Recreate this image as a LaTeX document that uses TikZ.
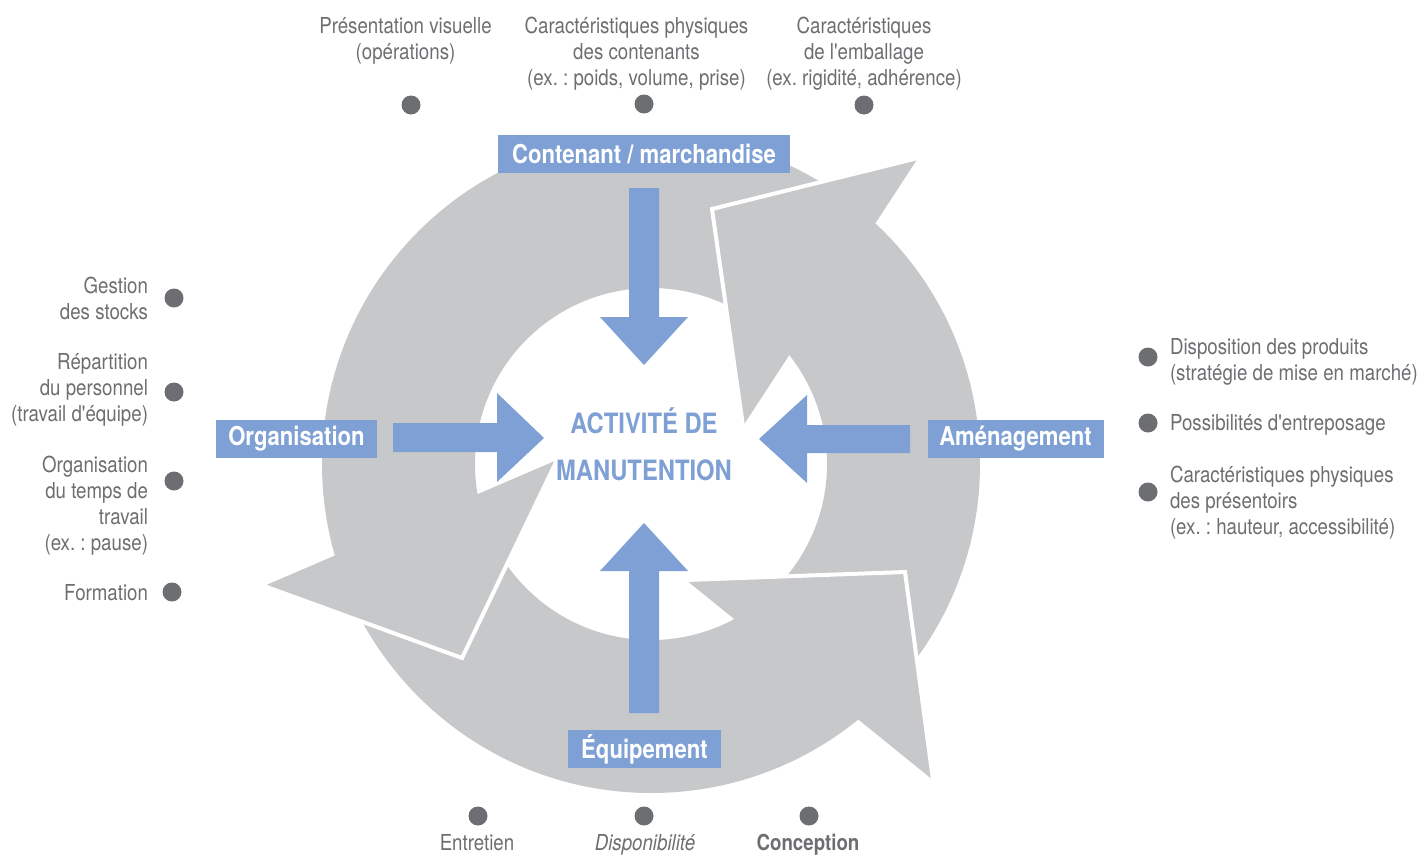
\documentclass[tikz,border=0pt]{standalone}
\usepackage{fontspec}
\setmainfont{TeX Gyre Heros}[FakeStretch=0.85, Ligatures=TeXOff]
\definecolor{ringgray}{HTML}{C7C8CA}
\definecolor{labelgray}{HTML}{6D6E71}
\definecolor{boxblue}{HTML}{7FA0D4}
\frenchspacing
\begin{document}
\begin{tikzpicture}[x=1pt,y=-1pt,
  lbl/.style={text=labelgray, font=\fontsize{22}{26}\selectfont, inner sep=0pt, outer sep=0pt},
  dot/.style={circle, fill=labelgray, minimum size=19pt, inner sep=0pt},
  bluebox/.style={fill=boxblue, text=white, font=\fontsize{26}{30}\selectfont\bfseries, minimum height=38pt, inner sep=0pt},
  headedge/.style={white, line width=4pt, line join=miter},
  bluearrow/.style={fill=boxblue}]
\useasboundingbox (0,0) rectangle (1418,854);
\coordinate (c) at (651,464);
% ring
\fill[ringgray, even odd rule] (c) circle[radius=329] (c) circle[radius=176];
% arrow heads of the cycle
\coordinate (rtip) at (712,209); \coordinate (rb1) at (918,158); \coordinate (rb2) at (743,426);
\coordinate (ltip) at (462,658); \coordinate (lb1) at (264,586); \coordinate (lb2) at (557,460);
\coordinate (btip) at (905,572); \coordinate (bb1) at (686,580); \coordinate (bb2) at (933,780);
\fill[ringgray] (rtip) -- (rb1) -- (rb2) -- cycle;
\draw[headedge] (rb1) -- (rtip) -- (rb2);
\fill[ringgray] (ltip) -- (lb1) -- (lb2) -- cycle;
\draw[headedge] (lb1) -- (ltip) -- (lb2);
\fill[ringgray] (btip) -- (bb1) -- (bb2) -- cycle;
\draw[headedge] (bb1) -- (btip) -- (bb2);
% blue arrows
\fill[bluearrow] (629,188) -- (659,188) -- (659,317) -- (688,317) -- (644,365) -- (600,317) -- (629,317) -- cycle;
\fill[bluearrow] (629,713) -- (659,713) -- (659,571) -- (688,571) -- (644,523) -- (600,571) -- (629,571) -- cycle;
\fill[bluearrow] (393,423) -- (497,423) -- (497,393) -- (544,438) -- (497,482) -- (497,452) -- (393,452) -- cycle;
\fill[bluearrow] (910,425) -- (807,425) -- (807,395) -- (759,439) -- (807,483) -- (807,453) -- (910,453) -- cycle;
% boxes
\node[bluebox, minimum width=292pt] (cont) at (644,154) {Contenant / marchandise};
\node[bluebox, minimum width=161pt] (orga) at (296.5,439) {Organisation};
\node[bluebox, minimum width=176pt] (amen) at (1015.5,439) {Aménagement};
\node[bluebox, minimum width=153pt] (equi) at (644.5,749) {Équipement};
% center
\node[text=boxblue, font=\fontsize{28}{47}\selectfont\bfseries, align=center, anchor=north, inner sep=0pt] (center) at (644,406) {\rule{0pt}{27pt}ACTIVITÉ DE\\MANUTENTION};
% top labels
\node[lbl, align=center, anchor=north] (t1) at (405.5,15) {\rule{0pt}{18pt}Présentation visuelle\\(opérations)};
\node[lbl, align=center, anchor=north] (t2) at (636.5,15) {\rule{0pt}{18pt}Caractéristiques physiques\\des contenants\\(ex. : poids, volume, prise)};
\node[lbl, align=center, anchor=north] (t3) at (864,15) {\rule{0pt}{18pt}Caractéristiques\\de l'emballage\\(ex. rigidité, adhérence)};
\node[dot] (dt1) at (411,105) {};
\node[dot] (dt2) at (644,104) {};
\node[dot] (dt3) at (864,105) {};
% left labels
\node[lbl, align=right, anchor=north east] (l1) at (148,275) {\rule{0pt}{18pt}Gestion\\des stocks};
\node[lbl, align=right, anchor=north east] (l2) at (148,351) {\rule{0pt}{18pt}Répartition\\du personnel\\(travail d'équipe)};
\node[lbl, align=right, anchor=north east] (l3) at (148,454) {\rule{0pt}{18pt}Organisation\\du temps de\\travail\\(ex. : pause)};
\node[lbl, anchor=base east] (l4) at (148,600) {Formation};
\node[dot] (dl1) at (174,298) {};
\node[dot] (dl2) at (174,392) {};
\node[dot] (dl3) at (174,481) {};
\node[dot] (dl4) at (172,592) {};
% right labels
\node[lbl, align=left, anchor=north west] (r1) at (1170,336) {\rule{0pt}{18pt}Disposition des produits\\(stratégie de mise en marché)};
\node[lbl, anchor=base west] (r2) at (1170,430) {Possibilités d'entreposage};
\node[lbl, align=left, anchor=north west] (r3) at (1170,464) {\rule{0pt}{18pt}Caractéristiques physiques\\des présentoirs\\(ex. : hauteur, accessibilité)};
\node[dot] (dr1) at (1148,357) {};
\node[dot] (dr2) at (1148,423) {};
\node[dot] (dr3) at (1148,492) {};
% bottom labels
\node[dot] (db1) at (478,816) {};
\node[dot] (db2) at (644,816) {};
\node[dot] (db3) at (809,816) {};
\node[lbl, anchor=base] (b1) at (477,850) {Entretien};
\node[lbl, anchor=base, font=\fontsize{22}{26}\selectfont\itshape] (b2) at (645,850) {Disponibilité};
\node[lbl, anchor=base, font=\fontsize{22}{26}\selectfont\bfseries] (b3) at (808,850) {Conception};
\end{tikzpicture}
\end{document}
